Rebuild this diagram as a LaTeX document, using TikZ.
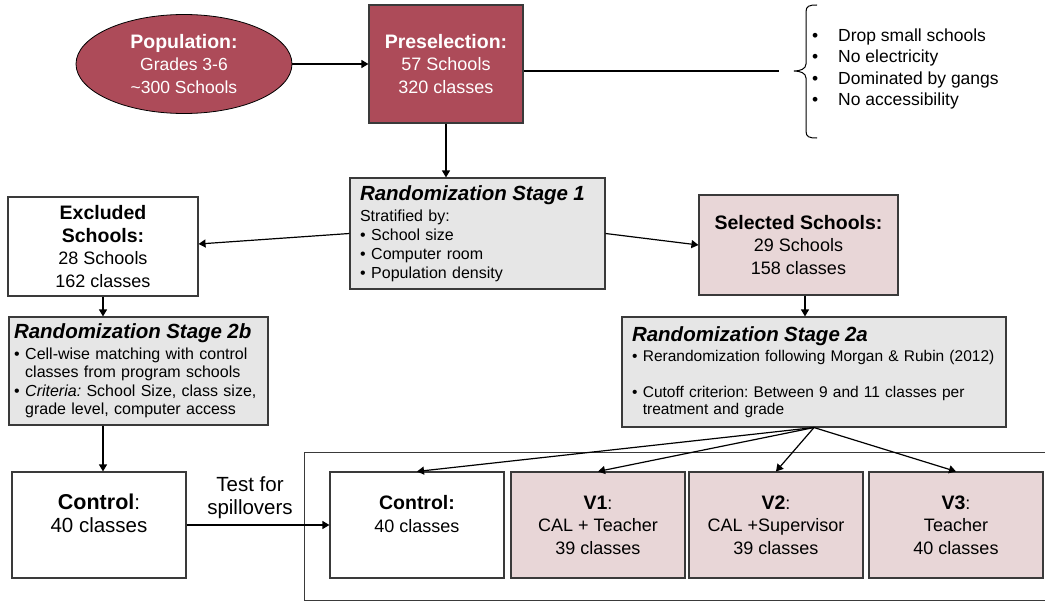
\documentclass[tikz,border=0pt]{standalone}
\usepackage{fontspec}
\setmainfont{Liberation Sans}
\usetikzlibrary{arrows.meta,shapes.geometric}
\definecolor{crim}{HTML}{AD4B59}
\definecolor{pinkf}{HTML}{E8D6D7}
\definecolor{grayf}{HTML}{E6E6E6}
\definecolor{edgec}{HTML}{3A3A3A}
\frenchspacing
\newcommand{\bul}{\textbullet\hspace{0.35em}}
\newcommand{\ind}{\hphantom{\textbullet\hspace{0.35em}}}
\newcommand{\hd}[1]{{\fontsize{19.5}{22.5}\selectfont\bfseries #1}}
\newcommand{\sttl}[1]{{\fontsize{20.5}{20.5}\selectfont\bfseries\itshape #1}}
\tikzset{
  box/.style={draw=edgec, line width=1.1pt, rectangle, inner sep=0pt, align=center,
    font=\fontsize{18}{22.5}\selectfont},
  redbox/.style={box, fill=crim, text=white},
  pinkbox/.style={box, fill=pinkf},
  graybox/.style={box, fill=grayf, align=left},
  arr/.style={-{Triangle[length=7pt,width=8pt]}, line width=1.2pt},
  plain/.style={line width=1.2pt}
}
\begin{document}
\begin{tikzpicture}[x=1pt,y=-1pt]
\useasboundingbox (0,0) rectangle (1045,602);

% top row
\node[ellipse, draw=black, line width=0.8pt, fill=crim, text=white, minimum width=216pt,
  minimum height=99pt, inner sep=0pt, align=center, font=\fontsize{17.5}{22.5}\selectfont]
  (pop) at (184,64) {\hd{Population:}\\Grades 3-6\\\textasciitilde300 Schools};
\node[redbox, minimum width=154pt, minimum height=118pt] (pre) at (446,64)
  {\hd{Preselection:}\\57 Schools\\320 classes};
\draw[arr] (pop.east) -- (pre.west);

\coordinate (bt) at (779,71);
\draw[plain] (pre.east |- bt) -- (bt);
\draw[line width=1pt] (817,5) .. controls (809,5) and (806,6) .. (806,12) -- (806,64)
  .. controls (806,69) and (800,71) .. (794,71)
  .. controls (800,71) and (806,73) .. (806,78) -- (806,131)
  .. controls (806,137) and (809,138) .. (817,138);
\node[anchor=west, inner sep=0pt, align=left, font=\fontsize{17.5}{21.3}\selectfont] (crit) at (812,69)
  {\makebox[26pt][l]{\textbullet}Drop small schools\\
   \makebox[26pt][l]{\textbullet}No electricity\\
   \makebox[26pt][l]{\textbullet}Dominated by gangs\\
   \makebox[26pt][l]{\textbullet}No accessibility};

% stage 1
\node[graybox, minimum width=255pt, minimum height=111pt, inner xsep=10pt, text width=235pt,
  font=\fontsize{16}{19}\selectfont] (st1) at (477.5,233.5)
  {\sttl{Randomization Stage 1}\\[2pt]Stratified by:\\\bul School size\\\bul Computer room\\\bul Population density};
\draw[arr] (pre.south) -- (pre.south |- st1.north);

\node[box, minimum width=190pt, minimum height=99pt] (excl) at (103,246.5)
  {\hd{Excluded}\\\hd{Schools:}\\28 Schools\\162 classes};
\node[pinkbox, minimum width=199pt, minimum height=100pt] (sel) at (798.5,245)
  {\hd{Selected Schools:}\\29 Schools\\158 classes};
\draw[arr] (st1.west) -- ([yshift=2.5pt]excl.east);
\draw[arr] (st1.east) -- (sel.west);

% stage 2
\node[graybox, minimum width=384pt, minimum height=110pt, inner xsep=10pt, text width=364pt,
  font=\fontsize{15.5}{17.5}\selectfont] (st2a) at (814,372)
  {\sttl{Randomization Stage 2a}\\[2.5pt]\bul Rerandomization following Morgan \& Rubin (2012)\\[18.5pt]\bul Cutoff criterion: Between 9 and 11 classes per\\\ind treatment and grade};
\node[graybox, minimum width=259pt, minimum height=108pt, inner xsep=5pt, text width=249pt,
  font=\fontsize{16}{18.5}\selectfont] (st2b) at (138.5,371)
  {\sttl{Randomization Stage 2b}\\[2pt]\bul Cell-wise matching with control\\\ind classes from program schools\\\bul \textit{Criteria:} School Size, class size,\\\ind grade level, computer access};
\draw[arr] ([xshift=6.5pt]sel.south) -- ([xshift=6.5pt]sel.south |- st2a.north);
\draw[arr] (excl.south) -- (excl.south |- st2b.north);

% bottom row
\node[box, minimum width=174pt, minimum height=106pt, font=\fontsize{20.5}{23}\selectfont] (ctl) at (99,525)
  {{\fontsize{21.5}{23}\selectfont\bfseries Control}:\\40 classes\\\mbox{}};
\draw[line width=1pt, draw=edgec] (1047,452) -- (304,452) -- (304,600) -- (1047,600);
\node[box, minimum width=174pt, minimum height=106pt] (ctr) at (417,525)
  {\hd{Control:}\\40 classes\\\mbox{}};
\node[pinkbox, minimum width=174pt, minimum height=106pt] (v1) at (598,525)
  {\hd{V1}:\\CAL + Teacher\\39 classes};
\node[pinkbox, minimum width=174pt, minimum height=106pt] (v2) at (776,525)
  {\hd{V2}:\\CAL +Supervisor\\39 classes};
\node[pinkbox, minimum width=174pt, minimum height=106pt] (v3) at (956,525)
  {\hd{V3}:\\Teacher\\40 classes};
\node[inner sep=0pt, align=center, font=\fontsize{20.5}{23}\selectfont] (spill) at (250,498)
  {Test for\\spillovers};

\draw[arr] (st2b.south -| excl.south) -- (ctl.north -| excl.south);
\draw[arr] (ctl.east) -- (ctr.west);
\draw[arr] (st2a.south) -- (ctr.north);
\draw[arr] (st2a.south) -- (v1.north);
\draw[arr] (st2a.south) -- (v2.north);
\draw[arr] (st2a.south) -- (v3.north);
\end{tikzpicture}
\end{document}
